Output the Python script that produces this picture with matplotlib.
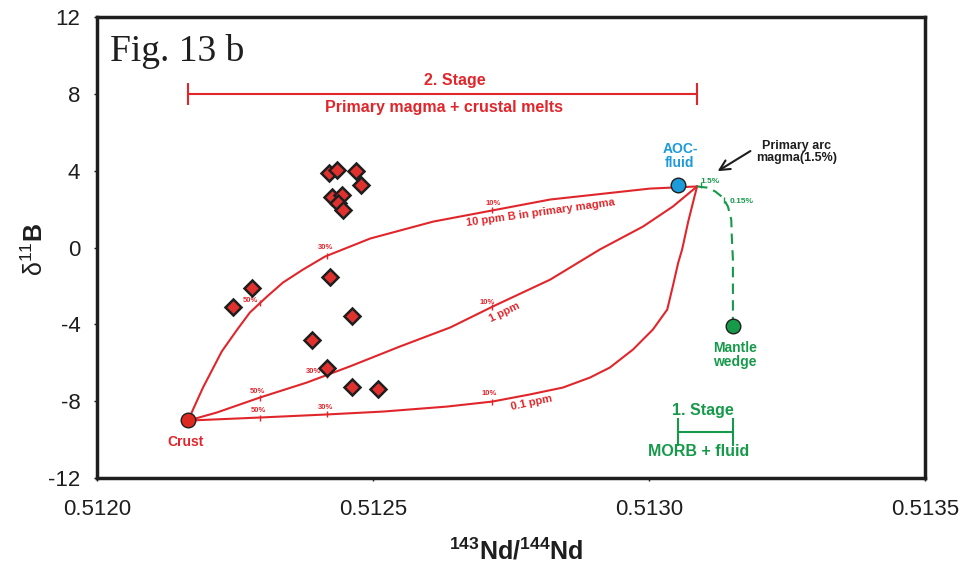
import numpy as np
import matplotlib
matplotlib.use('Agg')
import matplotlib.pyplot as plt

plt.rcParams['font.family'] = ['Liberation Sans', 'DejaVu Sans']
plt.rcParams['mathtext.fontset'] = 'custom'
plt.rcParams['mathtext.rm'] = 'Liberation Sans'
plt.rcParams['mathtext.bf'] = 'Liberation Sans:bold'
plt.rcParams['mathtext.it'] = 'Liberation Sans:italic'
plt.rcParams['axes.unicode_minus'] = False

RED = '#e1262b'
GREEN = '#169a4a'
BLUE = '#1c9ad9'
DARK = '#1e1e1e'

# samples (143Nd/144Nd, d11B)
sample_nd = [0.51242, 0.512435, 0.512469, 0.512478, 0.512426, 0.512444, 0.512437,
             0.512446, 0.512422, 0.512281, 0.512246, 0.512462, 0.512389, 0.512417,
             0.512462, 0.512509]
sample_b = [3.9, 4.05, 4.0, 3.28, 2.65, 2.76, 2.34, 1.93, -1.51, -2.13, -3.07,
            -3.59, -4.84, -6.25, -7.24, -7.34]

# end members
crust_nd, crust_b = 0.512165, -9.0
aoc_nd, aoc_b = 0.513053, 3.28
magma_nd, magma_b = 0.513087, 3.18
mantle_nd, mantle_b = 0.513152, -4.1

# mixing curves primary magma - crust
ppm10_nd = [0.512165, 0.512174, 0.512192, 0.512226, 0.512254, 0.512277, 0.512308,
            0.512337, 0.512373, 0.512413, 0.512495, 0.512609, 0.512716, 0.512821,
            0.513002, 0.513087]
ppm10_b = [-9.01, -8.43, -7.29, -5.41, -4.27, -3.38, -2.55, -1.82, -1.15, -0.47,
           0.47, 1.35, 1.93, 2.5, 3.07, 3.18]

ppm1_nd = [0.512165, 0.512217, 0.512295, 0.51238, 0.512458, 0.512549, 0.51264,
           0.512717, 0.512821, 0.512911, 0.512989, 0.513043, 0.513087]
ppm1_b = [-9.01, -8.59, -7.81, -7.03, -6.19, -5.15, -4.16, -3.07, -1.67, -0.1,
          1.09, 2.13, 3.18]

ppm01_nd = [0.512165, 0.512295, 0.512417, 0.512518, 0.512634, 0.512716, 0.512784,
            0.512844, 0.512893, 0.512929, 0.512971, 0.513007, 0.513033, 0.513043,
            0.513053, 0.51306, 0.513071, 0.513087]
ppm01_b = [-9.01, -8.85, -8.69, -8.54, -8.28, -8.02, -7.65, -7.29, -6.77, -6.25,
           -5.31, -4.27, -3.23, -2.03, -0.78, -0.1, 1.35, 3.18]

# mantle wedge - AOC fluid mixing
fluid_nd = [0.513087, 0.513105, 0.51312, 0.513134, 0.513143, 0.513149, 0.51315,
            0.513152, 0.513152, 0.513152]
fluid_b = [3.18, 3.12, 2.92, 2.6, 2.13, 1.46, 0.57, -0.62, -2.03, -4.1]

mix_nd = [0.512295, 0.512417, 0.512716]
mix_labels = ['50%', '30%', '10%']

fig = plt.figure(figsize=(9.74, 5.76), dpi=100)
ax = fig.add_axes([0.0996, 0.1701, 0.8501, 0.8003])

curves = [
    (ppm10_nd, ppm10_b, [(-7, 2), (-1, 6), (1, 5)]),
    (ppm1_nd, ppm1_b, [(-1.5, 4.5), (-10, 2.5), (-3.5, 3)]),
    (ppm01_nd, ppm01_b, [(-1, 5), (-1.5, 5), (-2, 6)]),
]
for cx, cy, offs in curves:
    ax.plot(cx, cy, color=RED, lw=1.5, zorder=2)
    ty = np.interp(mix_nd, cx, cy)
    ax.plot(mix_nd, ty, ls='none', marker='|', ms=4, mew=1, color=RED, zorder=2)
    for x, y, lab, off in zip(mix_nd, ty, mix_labels, offs):
        ax.annotate(lab, (x, y), xytext=off, textcoords='offset points',
                    ha='center', va='center', fontsize=5.5, fontweight='bold', color=RED)

ax.text(0.512803, 1.82, '10 ppm B in primary magma', rotation=8, ha='center', va='center',
        fontsize=8, fontweight='bold', color=RED)
ax.text(0.512739, -3.38, '1 ppm', rotation=26, ha='center', va='center',
        fontsize=8, fontweight='bold', color=RED)
ax.text(0.512788, -8.07, '0.1 ppm', rotation=12, ha='center', va='center',
        fontsize=8, fontweight='bold', color=RED)

# green dashed fluid curve
ax.plot(fluid_nd, fluid_b, color=GREEN, lw=1.5, dashes=(5, 3), zorder=2)
ax.plot([0.513095, 0.513136], [3.28, 2.48], ls='none', marker='|', ms=4, mew=1, color=GREEN)
ax.text(0.51311, 3.44, '1.5%', ha='center', va='center', fontsize=6, fontweight='bold', color=GREEN)
ax.text(0.513168, 2.39, '0.15%', ha='center', va='center', fontsize=6, fontweight='bold', color=GREEN)

# samples
ax.plot(sample_nd, sample_b, ls='none', marker='D', ms=8, mfc='#e0312f', mec=DARK,
        mew=1.8, zorder=4)

# end members
ax.plot(crust_nd, crust_b, 'o', ms=10.5, mfc='#dd2a20', mec=DARK, mew=1, zorder=5)
ax.plot(aoc_nd, aoc_b, 'o', ms=10.5, mfc=BLUE, mec=DARK, mew=1, zorder=5)
ax.plot(mantle_nd, mantle_b, 'o', ms=10.5, mfc=GREEN, mec=DARK, mew=1, zorder=5)

ax.text(0.512161, -10.1, 'Crust', ha='center', va='center', fontsize=10,
        fontweight='bold', color=RED)
ax.text(0.513056, 4.74, 'AOC-\nfluid', ha='center', va='center', fontsize=10,
        fontweight='bold', color=BLUE, linespacing=1.0)
ax.text(0.513156, -5.57, 'Mantle\nwedge', ha='center', va='center', fontsize=10,
        fontweight='bold', color=GREEN, linespacing=1.0)
ax.text(0.513268, 4.95, 'Primary arc\nmagma(1.5%)', ha='center', va='center', fontsize=9,
        fontweight='bold', color=DARK, linespacing=1.0)
ax.annotate('', xy=(0.51312, 3.9), xytext=(0.513188, 5.1),
            arrowprops=dict(arrowstyle='->', color=DARK, lw=1.5, mutation_scale=18))

# stages
ax.errorbar([(crust_nd + magma_nd) / 2], [8], xerr=[(magma_nd - crust_nd) / 2],
            color=RED, lw=1.5, capsize=8, capthick=1.5, fmt='none')
ax.text(0.512649, 8.69, '2. Stage', ha='center', va='center', fontsize=11.5,
        fontweight='bold', color=RED)
ax.text(0.512629, 7.29, 'Primary magma + crustal melts', ha='center', va='center',
        fontsize=11.5, fontweight='bold', color=RED)

ax.errorbar([(aoc_nd + mantle_nd) / 2], [-9.6], xerr=[(mantle_nd - aoc_nd) / 2],
            color=GREEN, lw=1.5, capsize=10, capthick=1.5, fmt='none')
ax.text(0.513098, -8.49, '1. Stage', ha='center', va='center', fontsize=11.5,
        fontweight='bold', color=GREEN)
ax.text(0.513089, -10.62, 'MORB + fluid', ha='center', va='center', fontsize=11.5,
        fontweight='bold', color=GREEN)

ax.text(0.016, 0.925, 'Fig. 13 b', transform=ax.transAxes, ha='left', va='center',
        fontsize=27, family='Liberation Serif', color=DARK)

ax.set_xlim(0.5120, 0.5135)
ax.set_ylim(-12, 12)
ax.set_xticks([0.5120, 0.5125, 0.5130, 0.5135])
ax.set_xticklabels(['0.5120', '0.5125', '0.5130', '0.5135'])
ax.set_yticks([-12, -8, -4, 0, 4, 8, 12])
ax.tick_params(labelsize=16, length=2, width=1, colors=DARK)
ax.tick_params(axis='x', pad=13)
ax.tick_params(axis='y', pad=10)
for sp in ax.spines.values():
    sp.set_linewidth(2.5)
    sp.set_color(DARK)

ax.text(-0.075, 0.495, r'$\mathrm{\delta}^{11}\mathbf{B}$', transform=ax.transAxes,
        rotation=90, ha='center', va='center', fontsize=18, color=DARK)
ax.text(0.506, -0.16, r'$^{\mathbf{143}}\mathbf{Nd/}^{\mathbf{144}}\mathbf{Nd}$',
        transform=ax.transAxes, ha='center', va='center', fontsize=18, color=DARK)

fig.savefig('out.png', dpi=100)
